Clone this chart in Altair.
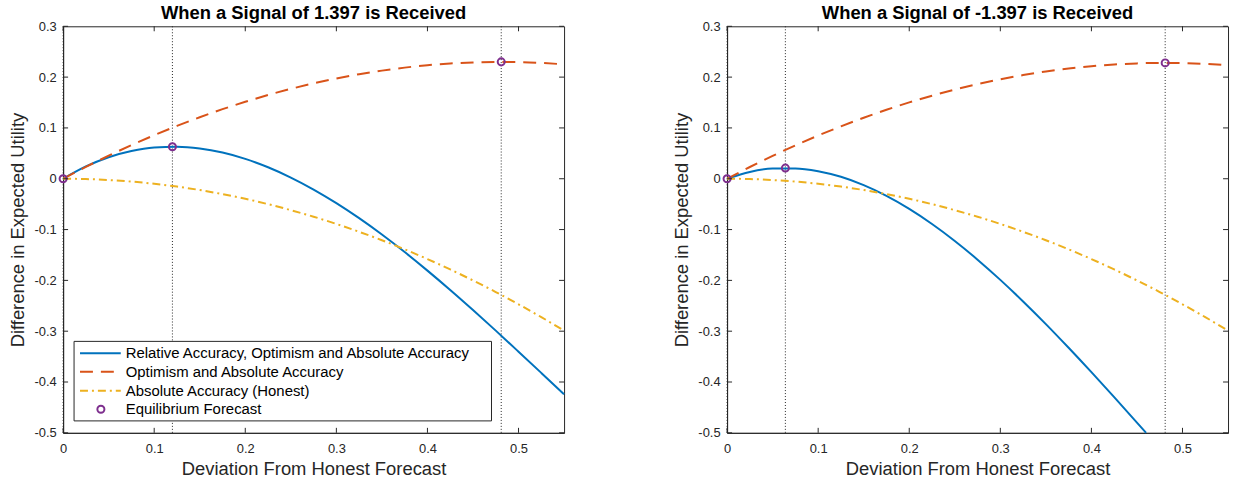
import altair as alt
import pandas as pd

# Deviation grid shared by most curves
x_grid = [0, 0.025, 0.05, 0.075, 0.1, 0.125, 0.15, 0.175, 0.2, 0.225, 0.25,
          0.275, 0.3, 0.325, 0.35, 0.375, 0.4, 0.425, 0.45, 0.475, 0.5, 0.525, 0.55]

# Signal = 1.397
left_blue = [0, 0.0242, 0.0424, 0.0546, 0.0614, 0.0629, 0.0595, 0.0515, 0.0391, 0.0226,
             0.0024, -0.0212, -0.0480, -0.0776, -0.1098, -0.1443, -0.1808, -0.2189,
             -0.2584, -0.2989, -0.3403, -0.3821, -0.4241]
left_orange = [0, 0.0233, 0.0453, 0.0661, 0.0857, 0.1040, 0.1210, 0.1369, 0.1514, 0.1648,
               0.1769, 0.1877, 0.1973, 0.2057, 0.2128, 0.2187, 0.2234, 0.2268, 0.2289,
               0.2298, 0.2295, 0.2279, 0.2251]
left_yellow = [0, -0.0006, -0.0025, -0.0056, -0.0099, -0.0154, -0.0222, -0.0303, -0.0395,
               -0.0500, -0.0618, -0.0747, -0.0889, -0.1044, -0.1210, -0.1389, -0.1581,
               -0.1785, -0.2001, -0.2229, -0.2470, -0.2723, -0.2989]
left_eq_x = [0, 0.12, 0.481]
left_eq_y = [0, 0.063, 0.230]

# Signal = -1.397
right_blue_x = [0, 0.025, 0.05, 0.075, 0.1, 0.125, 0.15, 0.175, 0.2, 0.225, 0.25,
                0.275, 0.3, 0.325, 0.35, 0.375, 0.4, 0.425, 0.45, 0.46]
right_blue = [0, 0.0134, 0.0200, 0.0204, 0.0149, 0.0038, -0.0126, -0.0337, -0.0593,
              -0.0890, -0.1224, -0.1592, -0.1990, -0.2414, -0.2860, -0.3326, -0.3806,
              -0.4299, -0.4799, -0.5]
right_orange = [0, 0.0231, 0.0449, 0.0656, 0.0850, 0.1031, 0.1200, 0.1357, 0.1502, 0.1634,
                0.1754, 0.1862, 0.1957, 0.2040, 0.2111, 0.2169, 0.2215, 0.2249, 0.2270,
                0.2280, 0.2276, 0.2261, 0.2233]
right_yellow = [0, -0.0006, -0.0025, -0.0056, -0.0099, -0.0154, -0.0222, -0.0303, -0.0395,
                -0.0500, -0.0618, -0.0747, -0.0889, -0.1044, -0.1210, -0.1389, -0.1581,
                -0.1785, -0.2001, -0.2229, -0.2470, -0.2723, -0.2989]
right_eq_x = [0, 0.064, 0.481]
right_eq_y = [0, 0.021, 0.228]

x_ticks = [0, 0.1, 0.2, 0.3, 0.4, 0.5]
y_ticks = [-0.5, -0.4, -0.3, -0.2, -0.1, 0, 0.1, 0.2, 0.3]

series_labels = [
    "Relative Accuracy, Optimism and Absolute Accuracy",
    "Optimism and Absolute Accuracy",
    "Absolute Accuracy (Honest)",
    "Equilibrium Forecast",
]

BLUE, ORANGE, YELLOW, PURPLE = "#0072BD", "#D95319", "#EDB120", "#7E2F8E"
AX = "#262626"
FONT = "Liberation Sans"
W, H = 504, 409
DASH = [13, 8]
DASHDOT = [8, 4, 2, 4]
label_expr = "toString(round(datum.value * 10) / 10)"

one = pd.DataFrame({"k": [0]})

X = alt.X("x:Q", scale=alt.Scale(domain=[0, 0.55], nice=False, zero=False),
          axis=alt.Axis(values=x_ticks, labelExpr=label_expr,
                        title="Deviation From Honest Forecast"))
Y = alt.Y("y:Q", scale=alt.Scale(domain=[-0.5, 0.3], nice=False, zero=False),
          axis=alt.Axis(values=y_ticks, labelExpr=label_expr,
                        title="Difference in Expected Utility"))


def curve(xs, ys, color, dash=None):
    df = pd.DataFrame({"x": xs, "y": ys})
    kw = dict(color=color, strokeWidth=2, interpolate="monotone")
    if dash:
        kw["strokeDash"] = dash
    return alt.Chart(df).mark_line(**kw).encode(x=X, y=Y)


def panel(title, bx, by, oy, yy, ex, ey, legend):
    eq = pd.DataFrame({"x": ex, "y": ey})
    layers = [
        alt.Chart(eq).mark_rule(color=AX, strokeWidth=1, strokeDash=[1, 2]).encode(x=X),
        curve(bx, by, BLUE),
        curve(x_grid, oy, ORANGE, DASH),
        curve(x_grid, yy, YELLOW, DASHDOT),
        alt.Chart(eq).mark_point(shape="circle", filled=False, size=50, color=PURPLE,
                                 strokeWidth=2, opacity=1).encode(x=X, y=Y),
        # inward box ticks on all four sides
        alt.Chart(pd.DataFrame({"x": x_ticks})).mark_rule(color=AX).encode(
            x=X, y=alt.value(H), y2=alt.value(H - 5)),
        alt.Chart(pd.DataFrame({"x": x_ticks})).mark_rule(color=AX).encode(
            x=X, y=alt.value(0), y2=alt.value(5)),
        alt.Chart(pd.DataFrame({"y": y_ticks})).mark_rule(color=AX).encode(
            y=Y, x=alt.value(0), x2=alt.value(5)),
        alt.Chart(pd.DataFrame({"y": y_ticks})).mark_rule(color=AX).encode(
            y=Y, x=alt.value(W), x2=alt.value(W - 5)),
    ]
    if legend:
        rows = [329, 347.6, 366.6, 385.3]
        layers.append(alt.Chart(one).mark_rect(fill="white", stroke=AX, strokeWidth=1).encode(
            x=alt.value(11), x2=alt.value(431), y=alt.value(317), y2=alt.value(397)))
        for col, dash, ry in [(BLUE, None, rows[0]), (ORANGE, DASH, rows[1]),
                              (YELLOW, DASHDOT, rows[2])]:
            kw = dict(color=col, strokeWidth=2)
            if dash:
                kw["strokeDash"] = dash
            layers.append(alt.Chart(one).mark_rule(**kw).encode(
                x=alt.value(17), x2=alt.value(58), y=alt.value(ry)))
        layers.append(alt.Chart(one).mark_point(shape="circle", filled=False, size=50,
                                                color=PURPLE, strokeWidth=2, opacity=1).encode(
            x=alt.value(38), y=alt.value(rows[3])))
        for lab, ry in zip(series_labels, rows):
            layers.append(alt.Chart(one).mark_text(text=lab, align="left", baseline="middle",
                                                   font=FONT, fontSize=15, color="black").encode(
                x=alt.value(63), y=alt.value(ry)))
    return alt.layer(*layers).properties(
        width=W, height=H,
        title=alt.TitleParams(title, font=FONT, fontSize=18.5, fontWeight="bold",
                              color="black", anchor="middle", frame="group", offset=-2),
    )


left = panel("When a Signal of 1.397 is Received", x_grid, left_blue, left_orange,
             left_yellow, left_eq_x, left_eq_y, True)
right = panel("When a Signal of -1.397 is Received", right_blue_x, right_blue, right_orange,
              right_yellow, right_eq_x, right_eq_y, False)

chart = alt.hconcat(left, right, spacing=104).properties(
    padding={"left": 8.5, "top": 2, "right": 0, "bottom": 0}
).configure_view(stroke=AX, strokeWidth=1).configure_axis(
    domainColor=AX, ticks=False, grid=False, labelFont=FONT, labelFontSize=13,
    labelColor=AX, labelFlush=False, labelOverlap=False, labelPadding=10,
    titleFont=FONT, titleFontSize=18.5, titleFontWeight="normal", titleColor=AX,
    titlePadding=4,
).configure_axisY(labelPadding=7, titlePadding=6)

chart.save("out.html", embed_options={"renderer": "svg", "actions": False})
